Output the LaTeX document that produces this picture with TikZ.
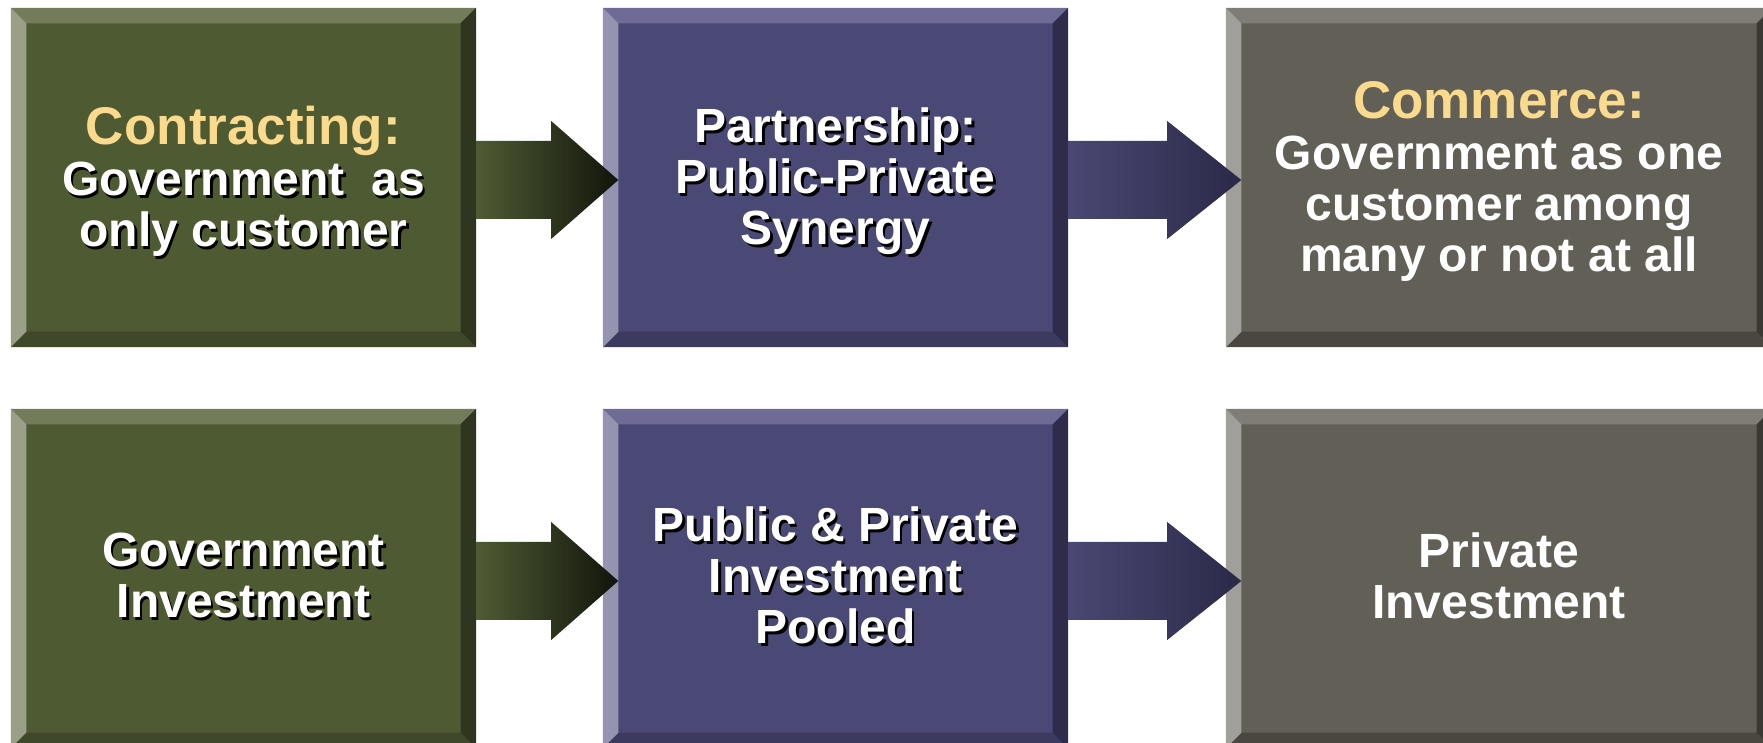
\documentclass[tikz,border=0pt]{standalone}
\usepackage{fontspec}
\setmainfont{Liberation Sans}
\usetikzlibrary{calc}
\definecolor{gface}{HTML}{4E5A32}
\definecolor{gtop}{HTML}{737C5A}
\definecolor{gleft}{HTML}{9A9F87}
\definecolor{gright}{HTML}{2F3620}
\definecolor{gbot}{HTML}{40482A}
\definecolor{pface}{HTML}{4A4874}
\definecolor{ptop}{HTML}{6E6C96}
\definecolor{pleft}{HTML}{9493B0}
\definecolor{pright}{HTML}{2E2C4A}
\definecolor{pbot}{HTML}{3C3A5E}
\definecolor{rface}{HTML}{625F57}
\definecolor{rtop}{HTML}{807D76}
\definecolor{rleft}{HTML}{A19F99}
\definecolor{rright}{HTML}{3A3833}
\definecolor{rbot}{HTML}{4A4740}
\definecolor{ttl}{HTML}{FADA8C}
\def\bw{15.5pt}
\newcommand\bevelbox[5]{%
 \fill[#2] (#1.north west) -- (#1.north east) -- ([shift={(-\bw,-\bw)}]#1.north east) -- ([shift={(\bw,-\bw)}]#1.north west) -- cycle;
 \fill[#5] (#1.south west) -- (#1.south east) -- ([shift={(-\bw,\bw)}]#1.south east) -- ([shift={(\bw,\bw)}]#1.south west) -- cycle;
 \fill[#3] (#1.north west) -- ([shift={(\bw,-\bw)}]#1.north west) -- ([shift={(\bw,\bw)}]#1.south west) -- (#1.south west) -- cycle;
 \fill[#4] (#1.north east) -- ([shift={(-\bw,-\bw)}]#1.north east) -- ([shift={(-\bw,\bw)}]#1.south east) -- (#1.south east) -- cycle;
}
\newcommand\ttlfont{\fontsize{53pt}{51pt}\selectfont}
\tikzset{
 face/.style={inner sep=0pt, minimum height=339pt, minimum width=465pt},
 wide/.style={minimum width=546pt},
 txt/.style={align=center, text=white, inner sep=0pt, font=\fontsize{48pt}{51pt}\selectfont\bfseries},
 shd/.style={txt, text=black},
}
\begin{document}
\begin{tikzpicture}[x=1pt,y=1pt]
\useasboundingbox (0,0) rectangle (1763,743);
\clip (0,0) rectangle (1763,743);
% row 1 boxes
\node[face, fill=gface] (g1) at (243.5,565.5) {};
\node[face, fill=pface] (p1) at (835.5,565.5) {};
\node[face, wide, fill=rface] (r1) at (1499,565.5) {};
% row 2 boxes
\node[face, fill=gface] (g2) at (243.5,164.5) {};
\node[face, fill=pface] (p2) at (835.5,164.5) {};
\node[face, wide, fill=rface] (r2) at (1499,164.5) {};
\bevelbox{g1}{gtop}{gleft}{gright}{gbot}
\bevelbox{p1}{ptop}{pleft}{pright}{pbot}
\bevelbox{r1}{rtop}{rleft}{rright}{rbot}
\bevelbox{g2}{gtop}{gleft}{gright}{gbot}
\bevelbox{p2}{ptop}{pleft}{pright}{pbot}
\bevelbox{r2}{rtop}{rleft}{rright}{rbot}
% arrows
\foreach \a/\b/\hb/\lc/\rc in {g1/p1/75/4F5B33/11140B, g2/p2/75/4F5B33/11140B, p1/r1/99/4A4874/2B2947, p2/r2/99/4A4874/2B2947}{
 \definecolor{al}{HTML}{\lc}\definecolor{ar}{HTML}{\rc}
 \shade[left color=al, right color=ar]
  ([yshift=36.5pt]\a.east) -- ([shift={(\hb pt,36.5pt)}]\a.east) -- ([shift={(\hb pt,56.5pt)}]\a.east)
  -- ([shift={(15.5pt,-2.5pt)}]\b.west)
  -- ([shift={(\hb pt,-61.5pt)}]\a.east) -- ([shift={(\hb pt,-41.5pt)}]\a.east) -- ([yshift=-41.5pt]\a.east) -- cycle;
}
% texts row 1
\node[shd] at ([shift={(2.5pt,-6.5pt)}]g1) {{\ttlfont\phantom{Contracting:}}\\Government~ as\\only customer};
\node[txt] (g1t) at ([yshift=-4pt]g1) {{\ttlfont\textcolor{ttl}{Contracting:}}\\Government~ as\\only customer};
\node[shd] at ([shift={(2.5pt,-6.5pt)}]p1) {Partnership:\\Public-Private\\Synergy};
\node[txt] (p1t) at ([yshift=-4pt]p1) {Partnership:\\Public-Private\\Synergy};
\node[txt] (r1t) at ([yshift=-4pt]r1) {{\ttlfont\textcolor{ttl}{Commerce:}}\\Government as one\\customer among\\many or not at all};
% texts row 2
\node[shd] at ([shift={(2.5pt,0.5pt)}]g2) {Government\\Investment};
\node[txt] (g2t) at ([yshift=3pt]g2) {Government\\Investment};
\node[shd] at ([shift={(2.5pt,0.5pt)}]p2) {Public \& Private\\Investment\\Pooled};
\node[txt] (p2t) at ([yshift=3pt]p2) {Public \& Private\\Investment\\Pooled};
\node[txt] (r2t) at ([yshift=3pt]r2) {Private\\Investment};
\end{tikzpicture}
\end{document}
